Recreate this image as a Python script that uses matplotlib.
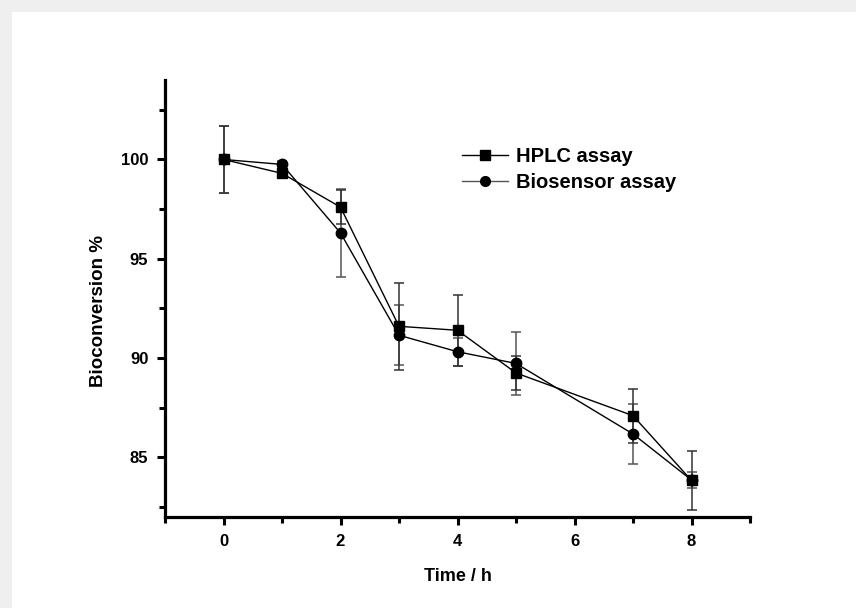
import numpy as np
import matplotlib
matplotlib.use('Agg')
import matplotlib.pyplot as plt
from matplotlib.patches import Rectangle
from matplotlib.lines import Line2D
from matplotlib.ticker import MultipleLocator

# data
time = [0, 1, 2, 3, 4, 5, 7, 8]
hplc = [100.0, 99.3, 97.6, 91.6, 91.4, 89.25, 87.1, 83.84]
hplc_err = [1.7, 0.25, 0.85, 2.2, 1.8, 0.85, 1.35, 1.5]
bio = [100.0, 99.75, 96.3, 91.15, 90.32, 89.73, 86.18, 83.86]
bio_err = [1.7, 0.15, 2.2, 1.5, 0.7, 1.6, 1.5, 0.4]

plt.rcParams['font.family'] = ['Liberation Sans', 'DejaVu Sans']
plt.rcParams['font.weight'] = 'bold'

fig = plt.figure(figsize=(8.56, 6.08), dpi=100, facecolor='#efefef')
# white card with a grey margin at top and left
fig.add_artist(Rectangle((12 / 856, 0), 1, 1 - 12 / 608, transform=fig.transFigure,
                         facecolor='white', edgecolor='none', zorder=-10))
ax = fig.add_axes([165 / 856, 91 / 608, 585 / 856, 437 / 608])
ax.set_facecolor('none')
ax.set_zorder(5)

ax.errorbar(time, bio, yerr=bio_err, fmt='-o', color='black', ms=7.5, lw=1.0,
            ecolor='#555555', elinewidth=1.1, capsize=3.5, capthick=1.1)
ax.errorbar(time, hplc, yerr=hplc_err, fmt='-s', color='black', ms=7, lw=1.0,
            ecolor='#333333', elinewidth=1.1, capsize=3.5, capthick=1.1)

ax.set_xlim(-1, 9)
ax.set_ylim(82, 104)
ax.xaxis.set_major_locator(MultipleLocator(2))
ax.xaxis.set_minor_locator(MultipleLocator(1))
ax.yaxis.set_major_locator(MultipleLocator(5))
ax.yaxis.set_minor_locator(MultipleLocator(2.5))

for s in ['top', 'right']:
    ax.spines[s].set_visible(False)
for s in ['left', 'bottom']:
    ax.spines[s].set_linewidth(2.3)
ax.tick_params(which='major', direction='out', length=6, width=2.2, labelsize=12, pad=6)
ax.tick_params(which='minor', direction='out', length=4, width=2.2)
for lab in ax.get_xticklabels() + ax.get_yticklabels():
    lab.set_fontweight('bold')

ax.set_xlabel('Time / h', fontsize=13, fontweight='bold', labelpad=14)
ax.set_ylabel('Bioconversion %', fontsize=13.5, fontweight='bold')
ax.yaxis.set_label_coords(-0.099, 0.471)

h_leg = Line2D([], [], color='black', marker='s', ms=6.5, lw=1.0)
b_leg = Line2D([], [], color='#555555', marker='o', ms=7, lw=1.0,
               markerfacecolor='black', markeredgecolor='black')
ax.legend([h_leg, b_leg], ['HPLC assay', 'Biosensor assay'], loc='upper left',
          bbox_to_anchor=(0.508, 0.846), frameon=False, fontsize=14.5,
          handlelength=2.3, handletextpad=0.35, labelspacing=0.33,
          borderpad=0, borderaxespad=0)

fig.savefig('out.png', dpi=100, facecolor=fig.get_facecolor())
